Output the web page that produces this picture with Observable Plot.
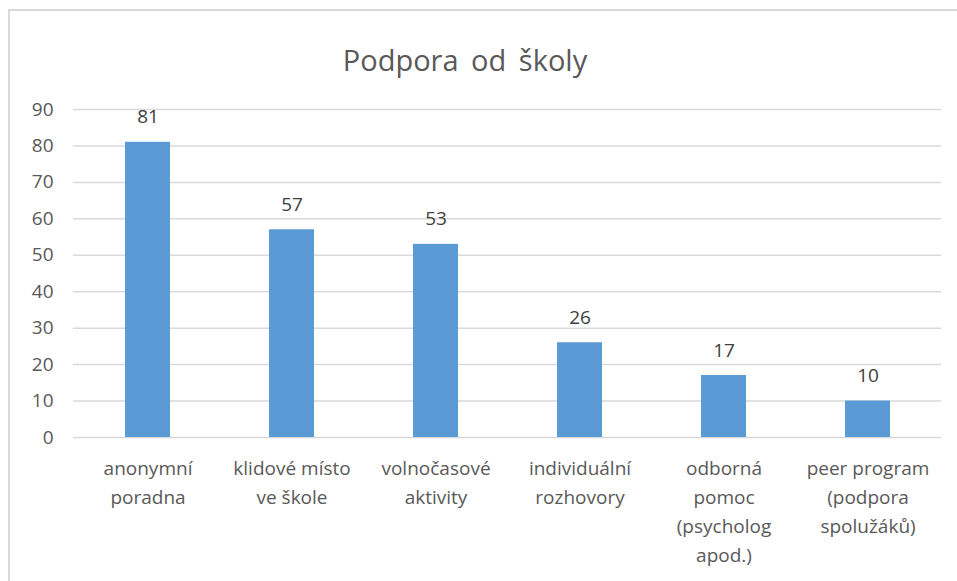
<!DOCTYPE html>
<html>
<head>
<meta charset="utf-8">
<script src="https://cdn.jsdelivr.net/npm/d3@7"></script>
<script src="https://cdn.jsdelivr.net/npm/@observablehq/plot@0.6"></script>
<style>
  html, body { margin: 0; padding: 0; background: #fff; overflow: hidden; }
  body { width: 957px; height: 581px; position: relative; font-family: "Open Sans", sans-serif; }
  #frame { position: absolute; left: 8px; top: 9px; width: 1000px; height: 700px; border: 2px solid #d9d9d9; box-sizing: border-box; }
  #title { position: absolute; left: 0; width: 930px; top: 40px; text-align: center; font-size: 29px; color: #595959; line-height: 40px; word-spacing: 5px; }
  #chart { position: absolute; left: 0; top: 90px; }
</style>
</head>
<body>
<div id="frame"></div>
<div id="title">Podpora od školy</div>
<div id="chart"></div>
<script>
const categories = [
  "anonymní\nporadna",
  "klidové místo\nve škole",
  "volnočasové\naktivity",
  "individuální\nrozhovory",
  "odborná\npomoc\n(psycholog\napod.)",
  "peer program\n(podpora\nspolužáků)"
];
const values = [81, 57, 53, 26, 17, 10];
const yTicks = [0, 10, 20, 30, 40, 50, 60, 70, 80, 90];

const data = categories.map((c, i) => ({category: c, value: values[i]}));

const plot = Plot.plot({
  width: 957,
  height: 491,
  marginLeft: 73,
  marginRight: 16,
  marginTop: 19,
  marginBottom: 144,
  style: {fontFamily: "'Open Sans', sans-serif", color: "#595959", background: "transparent"},
  x: {domain: categories, paddingInner: 0.69, paddingOuter: 0.345, label: null},
  y: {domain: [0, 90], ticks: yTicks, label: null},
  marks: [
    Plot.gridY(yTicks, {stroke: "#d9d9d9", strokeOpacity: 1, strokeWidth: 1.5}),
    Plot.barY(data, {x: "category", y: "value", fill: "#5b9bd5"}),
    Plot.text(data, {x: "category", y: "value", text: d => String(d.value), dy: -25, fontSize: 19, fill: "#404040"}),
    Plot.axisY(yTicks, {tickSize: 0, tickPadding: 20, fontSize: 19, fill: "#595959", label: null}),
    Plot.axisX({tickSize: 0, tickPadding: 17, fontSize: 19, lineHeight: 1.53, fill: "#595959", label: null})
  ]
});
document.getElementById("chart").appendChild(plot);
</script>
</body>
</html>
